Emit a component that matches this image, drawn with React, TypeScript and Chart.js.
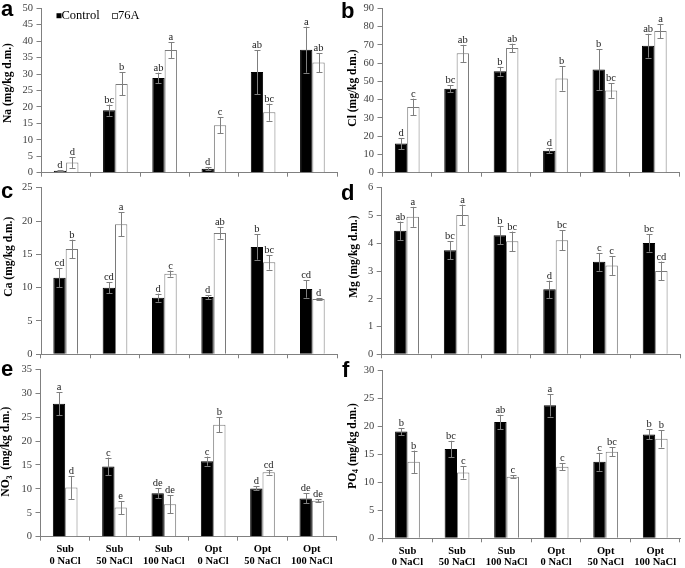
import React, { useEffect, useRef } from 'react';
import { Chart, registerables } from 'chart.js';

Chart.register(...registerables);

// ---------- DATA ----------
const categories: string[][] = [
  ['Sub', '0 NaCl'],
  ['Sub', '50 NaCl'],
  ['Sub', '100 NaCl'],
  ['Opt', '0 NaCl'],
  ['Opt', '50 NaCl'],
  ['Opt', '100 NaCl'],
];
const seriesNames = ['Control', '76A'];

// a) Na
const naControl = [0.6, 19.0, 28.8, 1.2, 30.6, 37.4];
const naControlErr = [0.2, 1.7, 1.6, 0.5, 6.7, 7.0];
const na76A = [3.1, 27.0, 37.3, 14.4, 18.4, 33.5];
const na76AErr = [1.6, 3.5, 2.4, 2.4, 2.6, 2.9];
const naControlLetters = ['d', 'bc', 'ab', 'd', 'ab', 'a'];
const na76ALetters = ['d', 'b', 'a', 'c', 'bc', 'ab'];

// b) Cl
const clControl = [16.0, 46.0, 55.5, 12.0, 56.5, 69.5];
const clControlErr = [3.0, 1.9, 2.4, 1.4, 11.2, 6.5];
const cl76A = [36.0, 65.3, 68.2, 51.6, 45.0, 77.5];
const cl76AErr = [4.5, 4.7, 2.4, 6.7, 4.0, 3.9];
const clControlLetters = ['d', 'bc', 'b', 'd', 'b', 'ab'];
const cl76ALetters = ['c', 'ab', 'ab', 'b', 'bc', 'a'];

// c) Ca
const caControl = [11.5, 10.0, 8.5, 8.6, 16.1, 9.8];
const caControlErr = [1.4, 0.85, 0.6, 0.3, 1.9, 1.3];
const ca76A = [15.8, 19.5, 12.1, 18.2, 13.8, 8.3];
const ca76AErr = [1.4, 1.8, 0.45, 0.85, 1.1, 0.15];
const caControlLetters = ['cd', 'cd', 'd', 'd', 'b', 'cd'];
const ca76ALetters = ['b', 'a', 'c', 'ab', 'bc', 'd'];

// d) Mg
const mgControl = [4.45, 3.75, 4.29, 2.34, 3.33, 4.01];
const mgControlErr = [0.33, 0.32, 0.33, 0.31, 0.32, 0.31];
const mg76A = [4.95, 5.02, 4.07, 4.11, 3.2, 3.0];
const mg76AErr = [0.36, 0.37, 0.35, 0.36, 0.34, 0.34];
const mgControlLetters = ['ab', 'bc', 'b', 'd', 'c', 'bc'];
const mg76ALetters = ['a', 'a', 'bc', 'bc', 'c', 'cd'];

// e) NO3
const no3Control = [27.8, 14.7, 9.1, 15.8, 10.1, 8.0];
const no3ControlErr = [2.4, 1.85, 1.05, 0.95, 0.4, 1.05];
const no376A = [10.3, 6.1, 6.8, 23.4, 13.5, 7.5];
const no376AErr = [2.4, 1.35, 1.9, 1.6, 0.5, 0.3];
const no3ControlLetters = ['a', 'c', 'de', 'c', 'd', 'de'];
const no376ALetters = ['d', 'e', 'de', 'b', 'cd', 'de'];

// f) PO4
const po4Control = [19.1, 16.0, 20.8, 23.8, 13.7, 18.6];
const po4ControlErr = [0.65, 1.45, 1.3, 2.0, 1.6, 0.9];
const po476A = [13.7, 11.8, 11.0, 12.8, 15.5, 17.8];
const po476AErr = [2.0, 1.1, 0.25, 0.65, 0.8, 1.55];
const po4ControlLetters = ['b', 'bc', 'ab', 'a', 'c', 'b'];
const po476ALetters = ['b', 'c', 'c', 'c', 'bc', 'b'];

// y-axis ranges
const yMax = [50, 90, 25, 6, 35, 30];
const yStep = [5, 10, 5, 1, 5, 5];

// ---------- LAYOUT / STYLE ----------
const W = 685;
const H = 568;
const SERIF = "'Liberation Serif', 'Times New Roman', serif";
const SANS = "'Liberation Sans', Arial, sans-serif";
const AXIS_COLOR = '#808080';

type TitlePart = { t: string; sub?: boolean };

interface PanelSpec {
  id: string;
  col: number;
  area: { l: number; r: number; t: number; b: number };
  letterPos: { x: number; y: number };
  titlePos: { x: number; y: number };
  title: TitlePart[];
  control: number[];
  controlErr: number[];
  treated: number[];
  treatedErr: number[];
  controlLetters: string[];
  treatedLetters: string[];
  max: number;
  step: number;
  showX: boolean;
  legend: boolean;
}

const panels: PanelSpec[] = [
  {
    id: 'a', col: 0, area: { l: 41.5, r: 337, t: 5, b: 172.7 },
    letterPos: { x: 1, y: 15.5 }, titlePos: { x: 8.3, y: 83 },
    title: [{ t: 'Na (mg/kg d.m.)' }],
    control: naControl, controlErr: naControlErr, treated: na76A, treatedErr: na76AErr,
    controlLetters: naControlLetters, treatedLetters: na76ALetters,
    max: yMax[0], step: yStep[0], showX: false, legend: true,
  },
  {
    id: 'b', col: 1, area: { l: 382.5, r: 679, t: 5, b: 172.7 },
    letterPos: { x: 341, y: 18 }, titlePos: { x: 353.5, y: 88 },
    title: [{ t: 'Cl (mg/kg d.m.)' }],
    control: clControl, controlErr: clControlErr, treated: cl76A, treatedErr: cl76AErr,
    controlLetters: clControlLetters, treatedLetters: cl76ALetters,
    max: yMax[1], step: yStep[1], showX: false, legend: false,
  },
  {
    id: 'c', col: 0, area: { l: 41, r: 337, t: 187.7, b: 354.3 },
    letterPos: { x: 1, y: 198 }, titlePos: { x: 8.7, y: 256.7 },
    title: [{ t: 'Ca (mg/kg d.m.)' }],
    control: caControl, controlErr: caControlErr, treated: ca76A, treatedErr: ca76AErr,
    controlLetters: caControlLetters, treatedLetters: ca76ALetters,
    max: yMax[2], step: yStep[2], showX: false, legend: false,
  },
  {
    id: 'd', col: 1, area: { l: 381.7, r: 680, t: 187.7, b: 354.3 },
    letterPos: { x: 341, y: 200 }, titlePos: { x: 353.7, y: 256.7 },
    title: [{ t: 'Mg (mg/kg d.m.)' }],
    control: mgControl, controlErr: mgControlErr, treated: mg76A, treatedErr: mg76AErr,
    controlLetters: mgControlLetters, treatedLetters: mg76ALetters,
    max: yMax[3], step: yStep[3], showX: false, legend: false,
  },
  {
    id: 'e', col: 0, area: { l: 40.5, r: 336.5, t: 369.3, b: 536.7 },
    letterPos: { x: 1, y: 375.5 }, titlePos: { x: 6.5, y: 451.7 },
    title: [{ t: 'NO' }, { t: '3', sub: true }, { t: '  (mg/kg d.m.)' }],
    control: no3Control, controlErr: no3ControlErr, treated: no376A, treatedErr: no376AErr,
    controlLetters: no3ControlLetters, treatedLetters: no376ALetters,
    max: yMax[4], step: yStep[4], showX: true, legend: false,
  },
  {
    id: 'f', col: 1, area: { l: 382.7, r: 680, t: 370.7, b: 538.3 },
    letterPos: { x: 342, y: 377 }, titlePos: { x: 353, y: 446 },
    title: [{ t: 'PO' }, { t: '4', sub: true }, { t: ' (mg/kg d.m.)' }],
    control: po4Control, controlErr: po4ControlErr, treated: po476A, treatedErr: po476AErr,
    controlLetters: po4ControlLetters, treatedLetters: po476ALetters,
    max: yMax[5], step: yStep[5], showX: true, legend: false,
  },
];

function drawRotatedTitle(ctx: CanvasRenderingContext2D, parts: TitlePart[], cx: number, cy: number) {
  const mainFont = `bold 11.5px ${SERIF}`;
  const subFont = `bold 8px ${SERIF}`;
  ctx.save();
  ctx.translate(cx, cy);
  ctx.rotate(-Math.PI / 2);
  let total = 0;
  for (const p of parts) {
    ctx.font = p.sub ? subFont : mainFont;
    total += ctx.measureText(p.t).width;
  }
  let x = -total / 2;
  ctx.textAlign = 'left';
  ctx.textBaseline = 'middle';
  ctx.fillStyle = '#000';
  for (const p of parts) {
    ctx.font = p.sub ? subFont : mainFont;
    ctx.fillText(p.t, x, p.sub ? 3 : 0);
    x += ctx.measureText(p.t).width;
  }
  ctx.restore();
}

function makeOverlay(spec: PanelSpec) {
  return {
    id: 'overlay_' + spec.id,
    afterDatasetsDraw(chart: any) {
      const ctx: CanvasRenderingContext2D = chart.ctx;
      const yScale = chart.scales.y;
      const sets = [
        { v: spec.control, e: spec.controlErr, l: spec.controlLetters },
        { v: spec.treated, e: spec.treatedErr, l: spec.treatedLetters },
      ];
      ctx.save();
      sets.forEach((s, di) => {
        const meta = chart.getDatasetMeta(di);
        meta.data.forEach((el: any, i: number) => {
          const x = Math.round(el.x) + 0.5;
          const top = yScale.getPixelForValue(s.v[i] + s.e[i]);
          const bot = yScale.getPixelForValue(Math.max(0, s.v[i] - s.e[i]));
          ctx.strokeStyle = '#7f7f7f';
          ctx.lineWidth = 1;
          ctx.beginPath();
          ctx.moveTo(x, top);
          ctx.lineTo(x, bot);
          ctx.moveTo(x - 3, Math.round(top) + 0.5);
          ctx.lineTo(x + 3, Math.round(top) + 0.5);
          ctx.moveTo(x - 3, Math.round(bot) + 0.5);
          ctx.lineTo(x + 3, Math.round(bot) + 0.5);
          ctx.stroke();
          ctx.fillStyle = '#222';
          ctx.font = `10.5px ${SERIF}`;
          ctx.textAlign = 'center';
          ctx.textBaseline = 'alphabetic';
          ctx.fillText(s.l[i], el.x, top - 2);
        });
      });
      ctx.restore();
    },
    afterDraw(chart: any) {
      const ctx: CanvasRenderingContext2D = chart.ctx;
      ctx.save();
      // panel letter
      ctx.fillStyle = '#000';
      ctx.font = `bold 22px ${SANS}`;
      ctx.textAlign = 'left';
      ctx.textBaseline = 'alphabetic';
      ctx.fillText(spec.id, spec.letterPos.x, spec.letterPos.y);
      // y-axis title
      drawRotatedTitle(ctx, spec.title, spec.titlePos.x, spec.titlePos.y);
      // legend
      if (spec.legend) {
        const ca = chart.chartArea;
        const lx = ca.left + 15;
        const ly = ca.top + 7.5;
        ctx.fillStyle = '#000';
        ctx.fillRect(lx, ly - 2.5, 5, 5);
        ctx.font = `12.5px ${SERIF}`;
        ctx.textBaseline = 'middle';
        ctx.textAlign = 'left';
        ctx.fillText(seriesNames[0], lx + 5, ly);
        const lx2 = lx + 55.5;
        ctx.strokeStyle = '#555';
        ctx.lineWidth = 1;
        ctx.strokeRect(Math.round(lx2) + 0.5, Math.round(ly - 2.5) + 0.5, 5, 5);
        ctx.fillText(seriesNames[1], lx2 + 6, ly);
      }
      ctx.restore();
    },
  };
}

function Panel({ spec }: { spec: PanelSpec }) {
  const ref = useRef<HTMLCanvasElement>(null);
  useEffect(() => {
    const canvas = ref.current;
    if (!canvas) return;
    const padLeft = spec.col === 0 ? 0 : 342;
    const xh = spec.showX ? 30 : 4;
    const chart = new Chart(canvas, {
      type: 'bar',
      data: {
        labels: categories,
        datasets: [
          {
            label: seriesNames[0],
            data: spec.control,
            backgroundColor: '#000',
            borderColor: '#000',
            borderWidth: 1,
            categoryPercentage: 0.5,
            barPercentage: 1,
          },
          {
            label: seriesNames[1],
            data: spec.treated,
            backgroundColor: '#fff',
            borderColor: '#7a7a7a',
            borderWidth: 1,
            categoryPercentage: 0.5,
            barPercentage: 1,
          },
        ],
      },
      options: {
        responsive: false,
        animation: false,
        events: [],
        devicePixelRatio: 1,
        layout: {
          padding: {
            left: padLeft,
            top: spec.area.t,
            right: W - spec.area.r,
            bottom: H - spec.area.b - xh,
          },
        },
        plugins: {
          legend: { display: false },
          tooltip: { enabled: false },
        },
        scales: {
          x: {
            type: 'category',
            offset: true,
            grid: {
              offset: true,
              drawOnChartArea: false,
              drawTicks: true,
              tickLength: 4,
              color: AXIS_COLOR,
            },
            border: { display: true, color: AXIS_COLOR },
            ticks: {
              display: spec.showX,
              autoSkip: false,
              maxRotation: 0,
              minRotation: 0,
              padding: 3,
              color: '#000',
              font: { family: SERIF, size: 10.5, weight: 'bold', lineHeight: 1.1 },
            },
            afterFit: (s: any) => {
              s.height = xh;
            },
          },
          y: {
            min: 0,
            max: spec.max,
            ticks: {
              stepSize: spec.step,
              padding: 3.5,
              color: '#404040',
              font: { family: SERIF, size: 10.5, lineHeight: 0.9 },
            },
            grid: {
              drawOnChartArea: false,
              drawTicks: true,
              tickLength: 5,
              color: AXIS_COLOR,
            },
            border: { display: true, color: AXIS_COLOR },
            afterFit: (s: any) => {
              s.width = spec.area.l - padLeft;
            },
          },
        },
      } as any,
      plugins: [makeOverlay(spec)],
    });
    return () => chart.destroy();
  }, [spec]);
  return (
    <canvas
      ref={ref}
      width={W}
      height={H}
      style={{ position: 'absolute', left: 0, top: 0, width: W, height: H }}
    />
  );
}

export default function App() {
  return (
    <div
      style={{
        position: 'fixed',
        left: 0,
        top: 0,
        width: W,
        height: H,
        background: '#fff',
        overflow: 'hidden',
      }}
    >
      {panels.map((p) => (
        <Panel key={p.id} spec={p} />
      ))}
    </div>
  );
}
